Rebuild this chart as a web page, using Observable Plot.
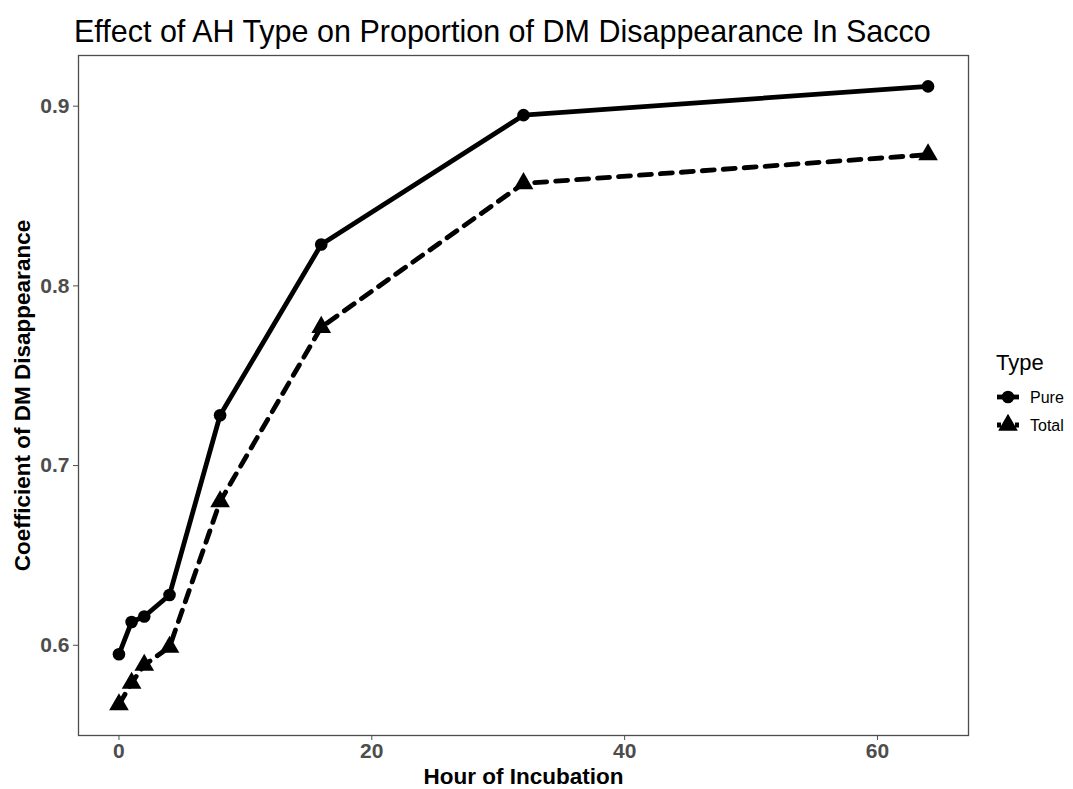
<!DOCTYPE html>
<html>
<head>
<meta charset="utf-8">
<script src="https://cdn.jsdelivr.net/npm/d3@7"></script>
<script src="https://cdn.jsdelivr.net/npm/@observablehq/plot@0.6"></script>
<style>
  html, body { margin: 0; padding: 0; background: #fff; }
  #wrap { position: relative; width: 1073px; height: 789px; font-family: "Liberation Sans", Arial, sans-serif; }
  #title { height: 50px; box-sizing: border-box; padding-left: 74px; padding-top: 15px; font-size: 30.5px; color: #000; line-height: 32px; white-space: nowrap; letter-spacing: 0px; }
  #legend { position: absolute; left: 985px; top: 340px; }
  svg.chart text { font-family: "Liberation Sans", Arial, sans-serif !important; }
  svg.chart g[aria-label="x-axis tick label"] text,
  svg.chart g[aria-label="y-axis tick label"] text { font-size: 21px !important; font-weight: bold !important; fill: #4d4d4d !important; }
  svg.chart g[aria-label="x-axis label"] text,
  svg.chart g[aria-label="y-axis label"] text { font-size: 22.5px !important; font-weight: bold !important; fill: #000 !important; }
</style>
</head>
<body>
<div id="wrap">
  <div id="title">Effect of AH Type on Proportion of DM Disappearance In Sacco</div>
  <div id="chart"></div>
  <div id="legend"></div>
</div>
<script>
// ---- data ----
const hours = [0, 1, 2, 4, 8, 16, 32, 64];
const pure  = [0.595, 0.613, 0.616, 0.628, 0.728, 0.823, 0.895, 0.911];
const total = [0.567, 0.579, 0.589, 0.599, 0.680, 0.777, 0.857, 0.873];
const types = ["Pure", "Total"];
const xTicks = [0, 20, 40, 60];
const yTicks = [0.6, 0.7, 0.8, 0.9];

const purRows = hours.map((h, i) => ({hour: h, value: pure[i], type: types[0]}));
const totRows = hours.map((h, i) => ({hour: h, value: total[i], type: types[1]}));

// ggplot-style 5% expansion
const allV = pure.concat(total);
const vmin = d3.min(allV), vmax = d3.max(allV);
const hmin = d3.min(hours), hmax = d3.max(hours);
const ex = (hmax - hmin) * 0.05, ey = (vmax - vmin) * 0.05;

const chart = Plot.plot({
  width: 1073,
  height: 739,
  marginTop: 5,
  marginLeft: 78,
  marginRight: 105,
  marginBottom: 54,
  x: {domain: [hmin - ex, hmax + ex]},
  y: {domain: [vmin - ey, vmax + ey]},
  marks: [
    Plot.frame({stroke: "#4d4d4d", strokeWidth: 1.3}),
    Plot.axisX({ticks: xTicks, tickSize: 5, tickPadding: 3, stroke: "#4d4d4d",
      label: "Hour of Incubation", labelAnchor: "center", labelArrow: "none", labelOffset: 48}),
    Plot.axisY({ticks: yTicks, tickFormat: ".1f", tickSize: 5, tickPadding: 4, stroke: "#4d4d4d",
      label: "Coefficient of DM Disappearance", labelAnchor: "center", labelArrow: "none", labelOffset: 64}),
    Plot.line(purRows, {x: "hour", y: "value", stroke: "black", strokeWidth: 4.8}),
    Plot.line(totRows, {x: "hour", y: "value", stroke: "black", strokeWidth: 4.8, strokeDasharray: "12,9"}),
    Plot.dot(purRows, {x: "hour", y: "value", symbol: "circle", r: 6.3, fill: "black"}),
    Plot.dot(totRows, {x: "hour", y: "value", symbol: "triangle", r: 7.3, fill: "black"})
  ]
});
chart.classList.add("chart");
document.getElementById("chart").appendChild(chart);

// ---- legend ----
const lg = d3.select("#legend").append("svg").attr("width", 88).attr("height", 100)
  .style("font-family", "'Liberation Sans', Arial, sans-serif");
lg.append("text").attr("x", 11).attr("y", 30).attr("font-size", 22).text("Type");
const keys = [{t: types[0], sym: d3.symbolCircle, size: Math.PI * 40, dash: null},
              {t: types[1], sym: d3.symbolTriangle, size: Math.PI * 53, dash: "4,2"}];
keys.forEach((k, i) => {
  const cy = 57 + i * 28;
  lg.append("line").attr("x1", 12).attr("x2", 34).attr("y1", cy).attr("y2", cy)
    .attr("stroke", "black").attr("stroke-width", 4.8).attr("stroke-dasharray", k.dash);
  lg.append("path").attr("d", d3.symbol(k.sym, k.size)()).attr("transform", `translate(23,${cy})`).attr("fill", "black");
  lg.append("text").attr("x", 45).attr("y", cy + 5.5).attr("font-size", 16).text(k.t);
});
</script>
</body>
</html>
